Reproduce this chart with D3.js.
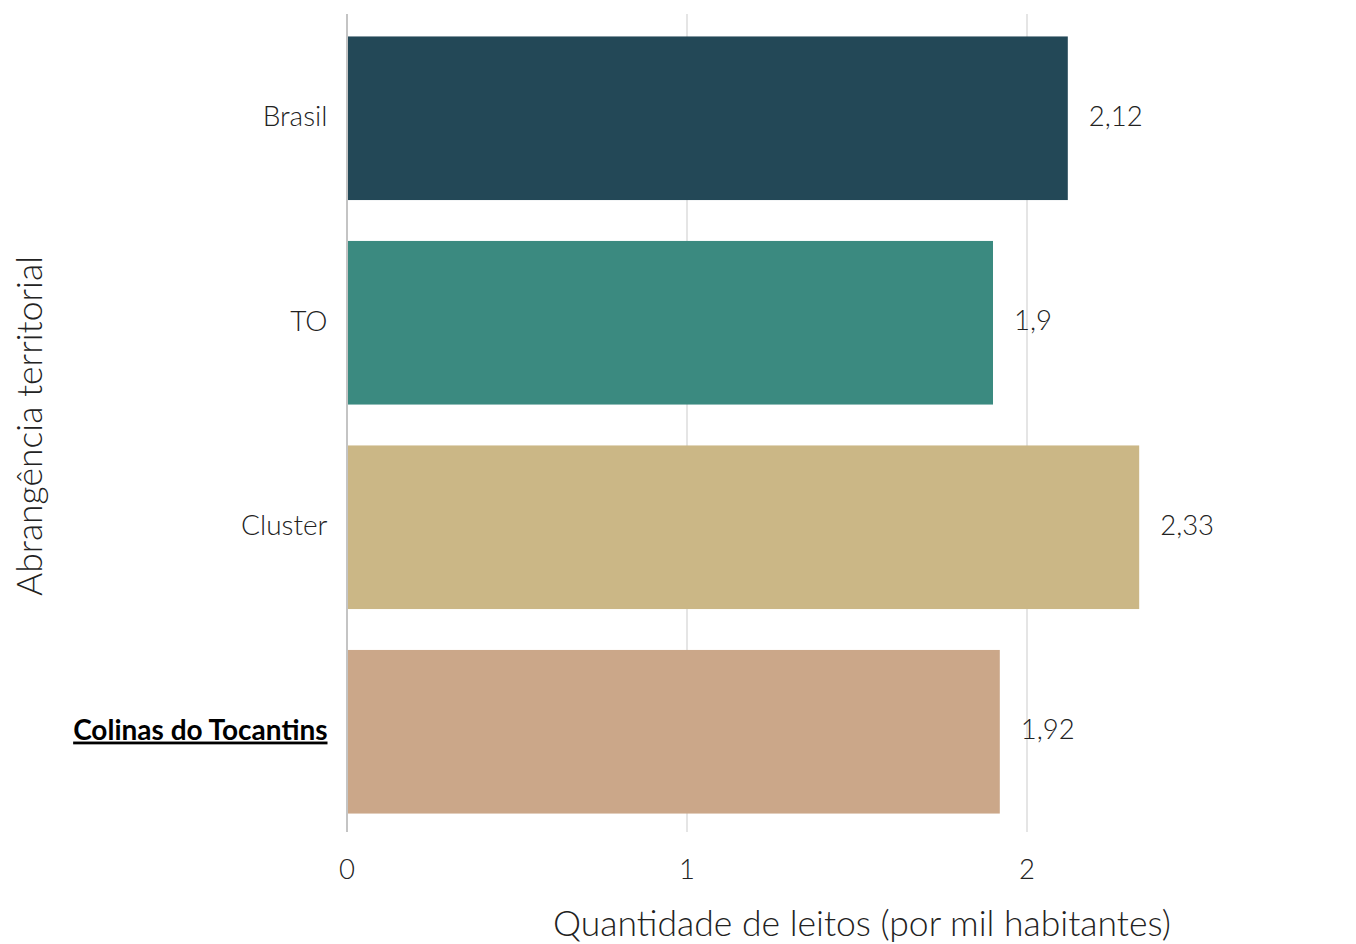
<!DOCTYPE html>
<html><head><meta charset="utf-8">
<script src="https://cdn.jsdelivr.net/npm/d3@7"></script>
<style>body{margin:0;background:#fff}svg{display:block;font-family:Lato,sans-serif}</style>
</head><body><svg id="c" width="1356" height="944"></svg>
<script>
const categories = ["Brasil","TO","Cluster","Colinas do Tocantins"];
const values = [2.12, 1.9, 2.33, 1.92];
const valueLabels = ["2,12","1,9","2,33","1,92"];
const colors = ["#234857","#3B8A80","#CBB786","#CBA789"];
const xTicks = [0,1,2];

const svg = d3.select("#c");
const x = d3.scaleLinear().domain([0,1]).range([347,687]);
const y = d3.scaleBand().domain(categories).range([16,834]).paddingInner(0.2).paddingOuter(0.1);

// grid
svg.append("g").selectAll("line").data(xTicks.filter(d=>d>0)).join("line")
  .attr("x1",d=>x(d)).attr("x2",d=>x(d)).attr("y1",14).attr("y2",832)
  .attr("stroke","#dcdcdc").attr("stroke-width",1.5);

// bars
svg.append("g").selectAll("rect").data(categories).join("rect")
  .attr("x",x(0)).attr("y",d=>y(d)).attr("height",y.bandwidth())
  .attr("width",(d,i)=>x(values[i])-x(0)).attr("fill",(d,i)=>colors[i]);

// zero line
svg.append("line").attr("x1",x(0)).attr("x2",x(0)).attr("y1",14).attr("y2",832)
  .attr("stroke","#c4c4c4").attr("stroke-width",2);

// value labels
svg.append("g").selectAll("text").data(categories).join("text")
  .attr("x",(d,i)=>x(values[i])+21).attr("y",d=>y(d)+y.bandwidth()/2-2)
  .attr("dy","0.35em").attr("font-size",27.5).attr("font-weight",300).attr("fill","#222")
  .text((d,i)=>valueLabels[i]);

// y category labels
svg.append("g").selectAll("text").data(categories).join("text")
  .attr("x",327.5).attr("y",d=>y(d)+y.bandwidth()/2-2).attr("dy","0.35em")
  .attr("text-anchor","end").attr("font-size",28)
  .attr("font-weight",(d,i)=>i===3?700:300)
  .attr("fill",(d,i)=>i===3?"#000":"#222")
  .attr("text-decoration",(d,i)=>i===3?"underline":null)
  .text(d=>d);

// x tick labels
svg.append("g").selectAll("text").data(xTicks).join("text")
  .attr("x",d=>x(d)).attr("y",869).attr("dy","0.35em").attr("text-anchor","middle")
  .attr("font-size",27.5).attr("font-weight",300).attr("fill","#222").text(d=>d);

// axis titles
svg.append("text").attr("x",862).attr("y",936).attr("text-anchor","middle")
  .attr("font-size",35.5).attr("font-weight",300).attr("fill","#222")
  .text("Quantidade de leitos (por mil habitantes)");
svg.append("text").attr("transform","translate(42,426) rotate(-90)").attr("text-anchor","middle")
  .attr("font-size",35.5).attr("font-weight",300).attr("fill","#222")
  .text("Abrangência territorial");
</script></body></html>
